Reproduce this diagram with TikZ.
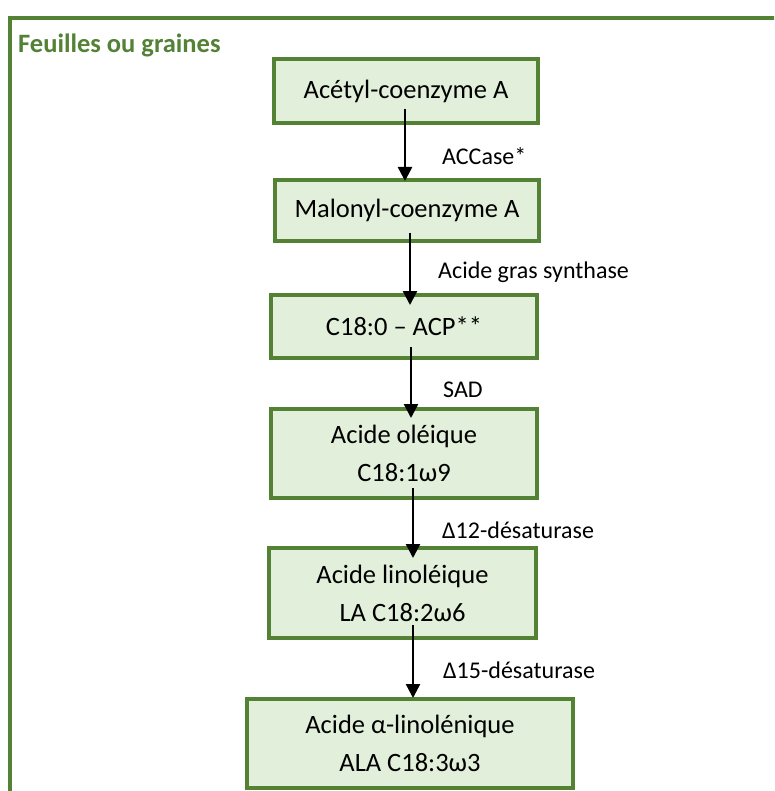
\documentclass[tikz,border=0pt]{standalone}
\usepackage{fontspec}
\setmainfont{Carlito}
\usepackage{tikz}
\usetikzlibrary{arrows.meta,calc}
\definecolor{framegreen}{RGB}{84,130,53}
\definecolor{boxfill}{RGB}{226,239,218}
\definecolor{titlegreen}{RGB}{83,129,53}
\def\outerframe{(9.5,800) |- (780,18)}

\begin{document}
\begin{tikzpicture}[x=1pt,y=-1pt,
    stage/.style={draw=framegreen,line width=4pt,fill=boxfill,align=center,inner sep=0pt,
      font=\fontsize{26.5}{38}\selectfont},
    enzyme/.style={anchor=west,inner sep=0pt,font=\fontsize{24}{28}\selectfont},
    flow/.style={line width=2.5pt,-{Triangle[width=14pt,length=14pt]}}]
    \useasboundingbox (0,0) rectangle (774,791);
    \clip (0,0) rectangle (774,791);
    \draw[framegreen,line width=4pt] \outerframe;
    \node[anchor=base west,inner sep=0pt,text=titlegreen,font=\bfseries\fontsize{26.5}{30}\selectfont] (title) at (18,53) {Feuilles ou graines};
    % etapes de la synthese
    \node[stage,minimum width=264pt,minimum height=64pt] (acetyl) at (406,91) {Acétyl-coenzyme A};
    \node[stage,minimum width=264pt,minimum height=61pt] (malonyl) at (407,210.5) {Malonyl-coenzyme A};
    \node[stage,minimum width=266pt,minimum height=63pt] (acp) at (404,326.5) {C18:0 – ACP**};
    \node[stage,minimum width=266pt,minimum height=89pt] (oleique) at (404,453.5) {Acide oléique\\C18:1ω9};
    \node[stage,minimum width=267pt,minimum height=90pt] (linoleique) at (402.5,593) {Acide linoléique\\LA C18:2ω6};
    \node[stage,minimum width=326pt,minimum height=89pt] (linolenique) at (410,743.5) {Acide α-linolénique\\ALA C18:3ω3};
    % enzymes
    \node[enzyme] (accase) at (442,156) {ACCase*};
    \node[enzyme] (ags) at (438,272) {Acide gras synthase};
    \node[enzyme] (sad) at (443,390) {SAD};
    \node[enzyme] (desat12) at (442,530) {Δ12-désaturase};
    \node[enzyme] (desat15) at (443,670) {Δ15-désaturase};
    % fleches
    \foreach \a/\b/\dx/\ds/\de in {acetyl/malonyl/-1/-16/3, malonyl/acp/3/-10/12,
        acp/oleique/7/-13/11, oleique/linoleique/9/-12/12, linoleique/linolenique/10.5/-15/1}
      \draw[flow] ($(\a.south)+(\dx,\ds)$) -- ($(\a.south |- \b.north)+(\dx,\de)$);
\end{tikzpicture}
\end{document}
